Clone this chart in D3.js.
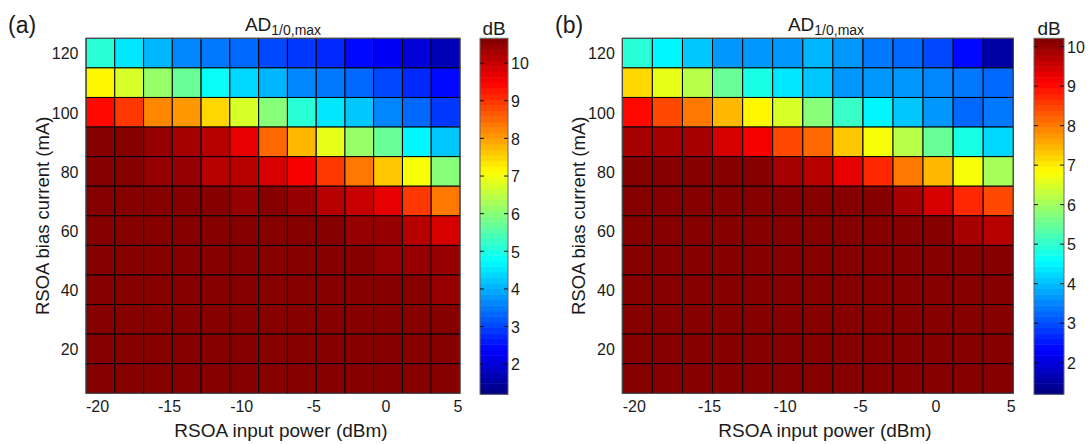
<!DOCTYPE html>
<html>
<head>
<meta charset="utf-8">
<script src="https://cdn.jsdelivr.net/npm/d3@7"></script>
<style>
  html, body { margin: 0; padding: 0; background: #fff; }
  svg { display: block; font-family: "Liberation Sans", Arial, sans-serif; }
  text { fill: #1a1a1a; }
</style>
</head>
<body>
<svg id="chart" width="1090" height="444"></svg>
<script>
// ---- data ----
const inputPower = [-19.76, -17.77, -15.77, -13.78, -11.78, -9.79, -7.79, -5.80, -3.80, -1.81, 0.18, 2.18, 4.17];
const biasCurrent = [120, 110, 100, 90, 80, 70, 60, 50, 40, 30, 20, 10];
const xTicks = [-20, -15, -10, -5, 0, 5];
const yTicks = [20, 40, 60, 80, 100, 120];
const cbTicks = [2, 3, 4, 5, 6, 7, 8, 9, 10];

// panel (a) values, rows = biasCurrent, columns = inputPower
const valuesA = [
  [5.08, 4.51, 4.04, 3.70, 3.42, 3.28, 3.10, 2.97, 2.68, 2.53, 2.24, 1.96, 1.65],
  [7.15, 6.69, 6.22, 5.64, 4.80, 4.39, 4.04, 3.70, 3.42, 3.28, 3.10, 2.82, 2.53],
  [9.34, 8.89, 8.18, 8.00, 7.54, 6.69, 5.93, 5.17, 4.51, 4.16, 3.70, 3.28, 2.97],
  [10.66, 10.52, 10.37, 10.29, 10.14, 9.69, 8.58, 7.85, 6.83, 6.22, 5.64, 4.60, 4.16],
  [10.57, 10.52, 10.42, 10.37, 10.21, 10.14, 9.83, 9.48, 9.03, 8.44, 7.70, 6.97, 6.07],
  [10.55, 10.55, 10.57, 10.60, 10.60, 10.50, 10.52, 10.37, 10.14, 10.00, 9.69, 9.03, 8.30],
  [10.55, 10.55, 10.55, 10.55, 10.55, 10.55, 10.55, 10.55, 10.52, 10.40, 10.37, 10.21, 9.90],
  [10.55, 10.55, 10.55, 10.55, 10.55, 10.55, 10.55, 10.55, 10.55, 10.55, 10.50, 10.47, 10.37],
  [10.55, 10.55, 10.55, 10.55, 10.55, 10.55, 10.55, 10.55, 10.55, 10.55, 10.55, 10.55, 10.50],
  [10.55, 10.55, 10.55, 10.55, 10.55, 10.55, 10.55, 10.55, 10.55, 10.55, 10.55, 10.55, 10.52],
  [10.55, 10.55, 10.55, 10.55, 10.55, 10.55, 10.55, 10.55, 10.55, 10.55, 10.55, 10.55, 10.55],
  [10.55, 10.55, 10.55, 10.55, 10.55, 10.55, 10.55, 10.55, 10.55, 10.55, 10.55, 10.55, 10.55]
];

// panel (b) values
const valuesB = [
  [4.98, 4.53, 4.08, 3.72, 3.72, 3.72, 3.88, 3.72, 3.45, 3.18, 2.89, 2.46, 1.62],
  [7.24, 6.56, 6.13, 5.44, 4.86, 4.31, 4.02, 3.72, 3.72, 3.72, 3.59, 3.45, 3.18],
  [8.95, 8.52, 8.09, 7.53, 6.97, 6.43, 5.84, 5.14, 4.44, 4.02, 3.72, 3.25, 3.32],
  [9.92, 9.85, 9.79, 9.49, 9.22, 8.52, 8.20, 7.39, 6.70, 6.13, 5.44, 4.86, 4.18],
  [10.21, 10.20, 10.20, 10.14, 10.07, 9.92, 9.65, 9.35, 8.77, 8.09, 7.53, 6.83, 6.00],
  [10.20, 10.20, 10.20, 10.20, 10.20, 10.20, 10.20, 10.20, 10.07, 9.79, 9.49, 8.77, 8.40],
  [10.20, 10.20, 10.20, 10.20, 10.20, 10.20, 10.20, 10.20, 10.20, 10.20, 10.14, 9.92, 9.65],
  [10.20, 10.20, 10.20, 10.20, 10.20, 10.20, 10.20, 10.20, 10.20, 10.20, 10.20, 10.20, 10.20],
  [10.20, 10.20, 10.20, 10.20, 10.20, 10.20, 10.20, 10.20, 10.20, 10.20, 10.20, 10.20, 10.20],
  [10.20, 10.20, 10.20, 10.20, 10.20, 10.20, 10.20, 10.20, 10.20, 10.20, 10.20, 10.20, 10.20],
  [10.20, 10.20, 10.20, 10.20, 10.20, 10.20, 10.20, 10.20, 10.20, 10.20, 10.20, 10.20, 10.20],
  [10.20, 10.20, 10.20, 10.20, 10.20, 10.20, 10.20, 10.20, 10.20, 10.20, 10.20, 10.20, 10.20]
];

const colorRangeA = [1.2, 10.66];
const colorRangeB = [1.2, 10.21];

// ---- layout ----
const plotTop = 38.3, plotBottom = 393.3;
const xDomain = [-20.76, 5.17];
const colHalf = 0.9975;   // half of a column, dBm
const rowHalf = 5;        // half of a row, mA

const panels = [
  { label: "(a)", labelX: 8, values: valuesA, range: colorRangeA,
    left: 86, right: 460, cbLeft: 480, cbRight: 508,
    titleX: 283, xlabX: 281, ylabX: 49 },
  { label: "(b)", labelX: 555, values: valuesB, range: colorRangeB,
    left: 622.3, right: 1013.3, cbLeft: 1034, cbRight: 1064,
    titleX: 826, xlabX: 825, ylabX: 585 }
];

// MATLAB jet colormap (64 levels)
const NLEV = 64;
function jet(t) {
  const c = v => Math.max(0, Math.min(1, v));
  const r = c(Math.min(4 * t - 1.5, -4 * t + 4.5));
  const g = c(Math.min(4 * t - 0.5, -4 * t + 3.5));
  const b = c(Math.min(4 * t + 0.5, -4 * t + 2.5));
  return d3.rgb(r * 255, g * 255, b * 255).toString();
}
function quantColor(range) {
  const q = d3.scaleQuantize().domain(range).range(d3.range(NLEV));
  return v => jet((q(v) + 0.5) / NLEV);
}

const svg = d3.select("#chart");
const FONT = '"Liberation Sans", Arial, sans-serif';

panels.forEach(p => {
  const g = svg.append("g");
  const x = d3.scaleLinear().domain(xDomain).range([p.left, p.right]);
  const y = d3.scaleLinear().domain([5, 125]).range([plotBottom, plotTop]);
  const color = quantColor(p.range);

  const cells = [];
  biasCurrent.forEach((bc, i) => inputPower.forEach((pw, j) => {
    cells.push({ pw, bc, v: p.values[i][j] });
  }));

  g.selectAll("rect.cell").data(cells).enter().append("rect")
    .attr("class", "cell")
    .attr("x", d => x(d.pw - colHalf))
    .attr("y", d => y(d.bc + rowHalf))
    .attr("width", d => x(d.pw + colHalf) - x(d.pw - colHalf))
    .attr("height", d => y(d.bc - rowHalf) - y(d.bc + rowHalf))
    .attr("fill", d => color(d.v))
    .attr("stroke", "#000")
    .attr("stroke-width", 1);

  // frame
  g.append("rect")
    .attr("x", p.left).attr("y", plotTop)
    .attr("width", p.right - p.left).attr("height", plotBottom - plotTop)
    .attr("fill", "none").attr("stroke", "#555").attr("stroke-width", 1);

  // x axis
  const xAxis = d3.axisBottom(x).tickValues(xTicks).tickSize(0).tickPadding(0);
  const gx = g.append("g").attr("transform", `translate(0,${plotBottom})`).call(xAxis);
  gx.select(".domain").remove();
  gx.selectAll("text").attr("dy", null).attr("y", 18.5)
    .style("font-size", "16px").style("fill", "#1a1a1a").style("font-family", FONT)
    .text(d => d < 0 ? "-" + Math.abs(d) : String(d));

  // y axis
  const yAxis = d3.axisLeft(y).tickValues(yTicks).tickSize(0).tickPadding(0);
  const gy = g.append("g").attr("transform", `translate(${p.left},0)`).call(yAxis);
  gy.select(".domain").remove();
  gy.selectAll("text").attr("x", -7.5).attr("dy", "0.36em")
    .style("font-size", "16px").style("fill", "#1a1a1a").style("font-family", FONT);

  // labels
  g.append("text").attr("x", p.xlabX).attr("y", 437).attr("text-anchor", "middle")
    .style("font-size", "19px").text("RSOA input power (dBm)");
  g.append("text").attr("transform", `translate(${p.ylabX},${(plotTop + plotBottom) / 2}) rotate(-90)`)
    .attr("text-anchor", "middle").style("font-size", "18.5px").text("RSOA bias current (mA)");

  // title
  const t = g.append("text").attr("x", p.titleX).attr("y", 31).attr("text-anchor", "middle")
    .style("font-size", "19px");
  t.append("tspan").text("AD");
  t.append("tspan").attr("dy", 4).style("font-size", "14px").text("1/0,max");

  // panel label
  g.append("text").attr("x", p.labelX).attr("y", 33).style("font-size", "23px").text(p.label);

  // colorbar
  const cbTop = 38.3, cbBottom = 394.3;
  const cy = d3.scaleLinear().domain(p.range).range([cbBottom, cbTop]);
  const step = (p.range[1] - p.range[0]) / NLEV;
  const levels = d3.range(NLEV).map(k => ({ lo: p.range[0] + k * step, hi: p.range[0] + (k + 1) * step, k }));
  g.selectAll("rect.cb").data(levels).enter().append("rect")
    .attr("class", "cb")
    .attr("x", p.cbLeft).attr("width", p.cbRight - p.cbLeft)
    .attr("y", d => cy(d.hi)).attr("height", d => cy(d.lo) - cy(d.hi) + 0.5)
    .attr("fill", d => jet((d.k + 0.5) / NLEV));
  g.append("rect")
    .attr("x", p.cbLeft).attr("y", cbTop)
    .attr("width", p.cbRight - p.cbLeft).attr("height", cbBottom - cbTop)
    .attr("fill", "none").attr("stroke", "#666").attr("stroke-width", 1);

  const cbAxis = d3.axisRight(cy).tickValues(cbTicks).tickSize(0).tickPadding(0);
  const gc = g.append("g").attr("transform", `translate(${p.cbRight},0)`).call(cbAxis);
  gc.select(".domain").remove();
  gc.selectAll("text").attr("x", 3).attr("dy", "0.36em")
    .style("font-size", "16px").style("fill", "#1a1a1a").style("font-family", FONT);
  g.selectAll("line.cbtl").data(cbTicks).enter().append("line")
    .attr("class", "cbtl")
    .attr("x1", p.cbLeft).attr("x2", p.cbLeft + 4)
    .attr("y1", d => cy(d)).attr("y2", d => cy(d))
    .attr("stroke", "#111").attr("stroke-width", 1);
  g.selectAll("line.cbtr").data(cbTicks).enter().append("line")
    .attr("class", "cbtr")
    .attr("x1", p.cbRight - 4).attr("x2", p.cbRight)
    .attr("y1", d => cy(d)).attr("y2", d => cy(d))
    .attr("stroke", "#111").attr("stroke-width", 1);

  g.append("text").attr("x", (p.cbLeft + p.cbRight) / 2).attr("y", 35)
    .attr("text-anchor", "middle").style("font-size", "19px").text("dB");
});
</script>
</body>
</html>
